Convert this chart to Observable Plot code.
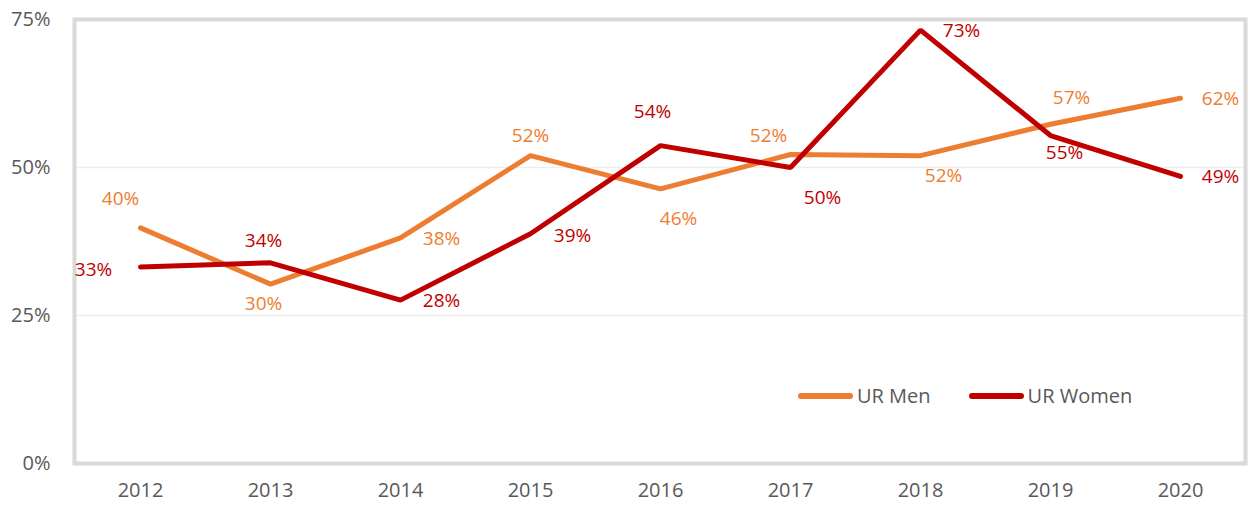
<!DOCTYPE html>
<html>
<head>
<meta charset="utf-8">
<script src="https://cdn.jsdelivr.net/npm/d3@7"></script>
<script src="https://cdn.jsdelivr.net/npm/@observablehq/plot@0.6"></script>
<style>
  body { margin: 0; background: #fff; }
  #wrap { position: relative; width: 1248px; height: 506px; font-family: "Open Sans", sans-serif; }
  #legend { position: absolute; left: 798px; top: 382px; display: flex; align-items: center; font-size: 20px; color: #595959; }
  .item { display: flex; align-items: center; margin-right: 38px; }
  .swatch { width: 55px; height: 6px; border-radius: 3px; margin-right: 4px; }
</style>
</head>
<body>
<div id="wrap"></div>
<script>
const years = ["2012","2013","2014","2015","2016","2017","2018","2019","2020"];
const urMen = [39.8, 30.3, 38.1, 52.0, 46.4, 52.2, 52.0, 57.3, 61.7];
const urWomen = [33.2, 33.9, 27.6, 38.8, 53.7, 50.0, 73.2, 55.4, 48.5];
const yTicks = [0, 25, 50, 75];
const seriesNames = ["UR Men", "UR Women"];
const colors = ["#ED7D31", "#C00000"];

// label nudges (styling) per point, [dx, dy]
const menNudge = [[-20,-29],[-7,20],[41,1],[0,-20],[18,30],[-22,-19],[23,20],[21,-26],[40,1]];
const womenNudge = [[-47,3],[-7,-22],[41,1],[42,2],[-8,-34],[32,30],[41,1],[14,17],[40,1]];

const men = years.map((y, i) => ({year: y, value: urMen[i], series: seriesNames[0]}));
const women = years.map((y, i) => ({year: y, value: urWomen[i], series: seriesNames[1]}));

const labelMarks = [];
[[men, menNudge, colors[0]], [women, womenNudge, colors[1]]].forEach(([data, nudge, c]) => {
  data.forEach((d, i) => {
    labelMarks.push(Plot.text([d], {
      x: "year", y: "value", text: d => `${Math.round(d.value)}%`,
      dx: nudge[i][0], dy: nudge[i][1], fill: c, fontSize: 19
    }));
  });
});

const chart = Plot.plot({
  width: 1248,
  height: 506,
  marginLeft: 74,
  marginRight: 3,
  marginTop: 19,
  marginBottom: 43,
  style: { fontFamily: "'Open Sans', sans-serif", fontSize: "20px", color: "#595959", background: "#fff" },
  x: { type: "point", domain: years, padding: 0.5, label: null },
  y: { domain: [0, 75], label: null },
  marks: [
    Plot.ruleY([25, 50], { stroke: "#ededed", strokeWidth: 1.5 }),
    Plot.frame({ stroke: "#d9d9d9", strokeWidth: 4 }),
    Plot.axisY(yTicks, { tickSize: 0, tickPadding: 24, tickFormat: d => d + "%", fill: "#595959" }),
    Plot.axisX(years, { tickSize: 0, tickPadding: 19, fill: "#595959" }),
    Plot.line(men, { x: "year", y: "value", stroke: colors[0], strokeWidth: 5, strokeLinejoin: "miter", strokeLinecap: "round" }),
    Plot.line(women, { x: "year", y: "value", stroke: colors[1], strokeWidth: 5, strokeLinejoin: "miter", strokeLinecap: "round" }),
    ...labelMarks
  ]
});

const wrap = document.getElementById("wrap");
wrap.appendChild(chart);
const legend = document.createElement("div");
legend.id = "legend";
seriesNames.forEach((n, i) => {
  const item = document.createElement("div");
  item.className = "item";
  const sw = document.createElement("div");
  sw.className = "swatch";
  sw.style.background = colors[i];
  const t = document.createElement("span");
  t.textContent = n;
  item.appendChild(sw);
  item.appendChild(t);
  legend.appendChild(item);
});
wrap.appendChild(legend);
</script>
</body>
</html>
